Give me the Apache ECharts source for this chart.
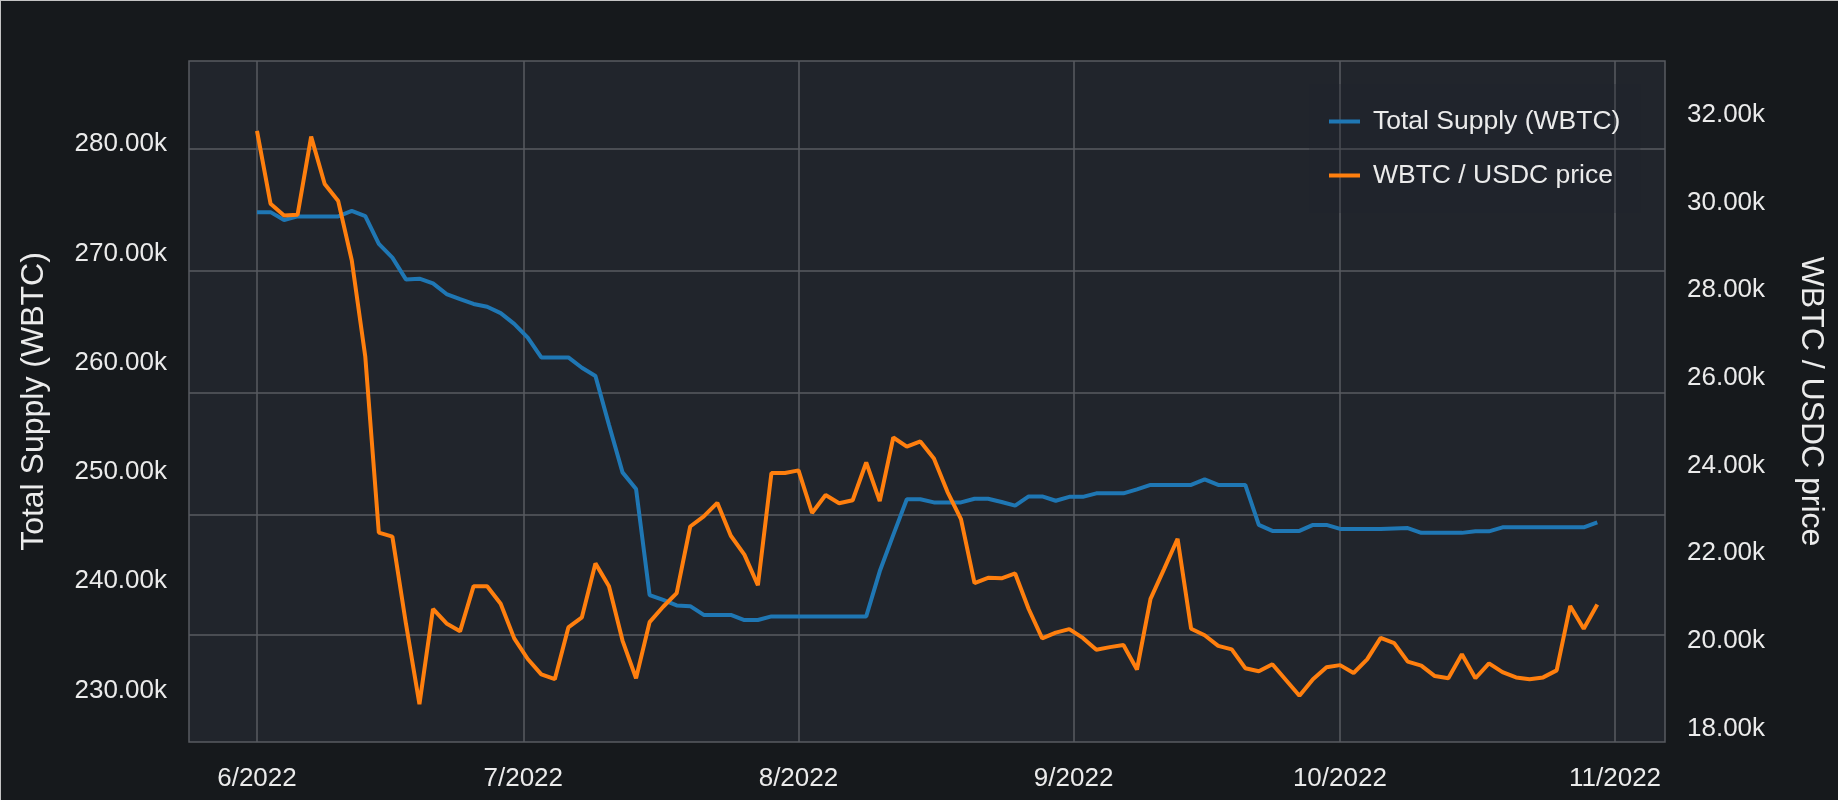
<!DOCTYPE html>
<html>
<head>
<meta charset="utf-8">
<title>WBTC supply vs price</title>
<script src="https://cdn.jsdelivr.net/npm/echarts@6/dist/echarts.min.js"></script>
<style>
  html, body { margin: 0; padding: 0; background: #16191c; }
  #wrap { position: relative; width: 1838px; height: 800px; }
  #chart { width: 1838px; height: 800px; }
  /* thin light frame along the top and left edge of the reference */
  #wrap::after {
    content: ''; position: absolute; left: 0; top: 0; right: 0; bottom: 0;
    border-top: 1px solid #c4c4c4; border-left: 1px solid #c4c4c4;
    pointer-events: none;
  }
</style>
</head>
<body>
<div id="wrap"><div id="chart"></div></div>
<script>
// values, one sample about every 1.5 days from 1 Jun to 30 Oct 2022
const supply = [
  273790, 273790, 273070, 273400, 273400, 273400, 273400, 273900, 273430, 270890,
  269620, 267630, 267700, 267260, 266290, 265820, 265380, 265130, 264540, 263560,
  262300, 260490, 260490, 260490, 259540, 258780, 254310, 249960, 248440, 238730,
  238290, 237780, 237710, 236910, 236910, 236910, 236440, 236440, 236770, 236770,
  236770, 236770, 236770, 236770, 236770, 236770, 240900, 244240, 247500, 247500,
  247210, 247210, 247210, 247540, 247540, 247250, 246920, 247760, 247760, 247360,
  247720, 247720, 248040, 248040, 248040, 248410, 248810, 248810, 248810, 248810,
  249310, 248810, 248810, 248810, 245150, 244600, 244600, 244600, 245150, 245150,
  244780, 244780, 244780, 244780, 244820, 244860, 244420, 244420, 244420, 244420,
  244560, 244560, 244930, 244930, 244930, 244930, 244930, 244930, 244930, 245390
];
const price = [
  31630, 29970, 29700, 29720, 31500, 30420, 30030, 28680, 26480, 22470,
  22380, 20400, 18560, 20730, 20400, 20220, 21250, 21250, 20850, 20060,
  19590, 19240, 19130, 20310, 20540, 21770, 21250, 20010, 19150, 20430,
  20780, 21090, 22610, 22840, 23150, 22400, 21970, 21270, 23830, 23830,
  23890, 22920, 23330, 23140, 23210, 24070, 23190, 24640, 24430, 24550,
  24160, 23400, 22780, 21320, 21440, 21430, 21540, 20730, 20060, 20190,
  20270, 20070, 19800, 19860, 19910, 19350, 20960, 21640, 22330, 20280,
  20130, 19890, 19810, 19380, 19310, 19470, 19110, 18750, 19130, 19400,
  19450, 19270, 19580, 20070, 19950, 19530, 19440, 19200, 19150, 19700,
  19150, 19490, 19290, 19170, 19130, 19170, 19330, 20800, 20280, 20830
];
const supplyTicks = [230000, 240000, 250000, 260000, 270000, 280000];
const priceTicks = [18000, 20000, 22000, 24000, 26000, 28000, 30000, 32000];
// horizontal grid lines of the reference do not sit on either axis' labels
const gridLines = [235090, 246080, 257250, 268420, 279570];
const monthTicks = [
  Date.UTC(2022, 5, 1), Date.UTC(2022, 6, 1), Date.UTC(2022, 7, 1),
  Date.UTC(2022, 8, 1), Date.UTC(2022, 9, 1), Date.UTC(2022, 10, 1)
];

const DAY = 86400000;
const firstSample = Date.UTC(2022, 5, 1);
const sampleStep = 151 * DAY / (supply.length - 1);
const dates = supply.map((_, i) => firstSample + i * sampleStep);

const TEXT = '#ebebeb';
const GRID = '#585b60';
const FONT = '"Liberation Sans", Arial, Helvetica, sans-serif';

const kFmt = (v) => (v / 1000).toFixed(2) + 'k';

const chart = echarts.init(document.getElementById('chart'));
chart.setOption({
  backgroundColor: '#16191c',
  animation: false,
  textStyle: { fontFamily: FONT },
  grid: {
    left: 189, right: 173, top: 61, bottom: 58,
    show: true,
    backgroundColor: '#21252c',
    borderColor: GRID,
    borderWidth: 1.5
  },
  legend: {
    orient: 'vertical',
    left: 1309, top: 84,
    padding: [24, 20, 24, 20],
    backgroundColor: 'rgba(33,37,44,0.25)',
    icon: 'rect',
    itemWidth: 31, itemHeight: 4,
    itemGap: 27,
    textStyle: { color: TEXT, fontSize: 26.5, fontFamily: FONT, padding: [0, 0, 0, 8] },
    data: ['Total Supply (WBTC)', 'WBTC / USDC price']
  },
  xAxis: {
    type: 'value',
    min: Date.UTC(2022, 5, 1) - 7.66 * DAY,
    max: Date.UTC(2022, 10, 1) + 5.63 * DAY,
    axisLine: { show: false },
    axisTick: { show: false, customValues: monthTicks },
    splitLine: { show: true, lineStyle: { color: GRID, width: 1.5 } },
    axisLabel: {
      customValues: monthTicks,
      color: TEXT, fontSize: 26, margin: 24, fontFamily: FONT,
      formatter: (v) => {
        const d = new Date(v);
        return (d.getUTCMonth() + 1) + '/' + d.getUTCFullYear();
      }
    }
  },
  yAxis: [
    {
      type: 'value',
      position: 'left',
      min: 225270, max: 287630,
      name: 'Total Supply (WBTC)',
      nameLocation: 'middle',
      nameRotate: 90,
      nameGap: 139,
      nameTextStyle: { color: TEXT, fontSize: 32, fontFamily: FONT },
      axisLine: { show: false },
      axisTick: { show: false, customValues: gridLines },
      splitLine: { show: true, lineStyle: { color: GRID, width: 1.5 } },
      axisLabel: {
        customValues: supplyTicks,
        color: TEXT, fontSize: 26, margin: 22, fontFamily: FONT,
        formatter: kFmt
      }
    },
    {
      type: 'value',
      position: 'right',
      min: 17697, max: 33224,
      name: 'WBTC / USDC price',
      nameLocation: 'middle',
      nameRotate: -90,
      nameGap: 130,
      nameTextStyle: { color: TEXT, fontSize: 32, fontFamily: FONT },
      axisLine: { show: false },
      axisTick: { show: false },
      splitLine: { show: false },
      axisLabel: {
        customValues: priceTicks,
        color: TEXT, fontSize: 26, margin: 22, fontFamily: FONT,
        formatter: kFmt
      }
    }
  ],
  series: [
    {
      name: 'Total Supply (WBTC)',
      type: 'line',
      yAxisIndex: 0,
      showSymbol: false,
      color: '#1f77b4',
      lineStyle: { width: 4 },
      data: dates.map((t, i) => [t, supply[i]])
    },
    {
      name: 'WBTC / USDC price',
      type: 'line',
      yAxisIndex: 1,
      showSymbol: false,
      color: '#ff7f0e',
      lineStyle: { width: 4 },
      data: dates.map((t, i) => [t, price[i]])
    }
  ]
});
</script>
</body>
</html>
